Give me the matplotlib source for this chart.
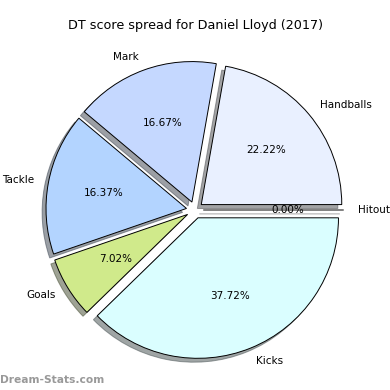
import matplotlib
matplotlib.use("Agg")
import matplotlib.pyplot as plt

labels = ["Handballs", "Mark", "Tackle", "Goals", "Kicks", "Hitouts"]
values = [76, 57, 56, 24, 129, 0]
colors = ["#e9f0ff", "#c5d8ff", "#b3d4ff", "#d0ea8b", "#dafeff", "#ffffff"]
explode = [0.06] * len(values)

fig = plt.figure(figsize=(3.9, 3.9), dpi=100)
w = 2.5 * 140.5 / 390
cx, cy = 194.8 / 390, (390 - 210) / 390
ax = fig.add_axes([cx - w / 2, cy - w / 2, w, w])
wedges, texts, autotexts = ax.pie(
    values, labels=labels, colors=colors, explode=explode, shadow=True,
    autopct="%1.2f%%", startangle=0,
    wedgeprops=dict(edgecolor="black", linewidth=0.7),
    textprops=dict(fontsize=7.5),
)
ax.set_xlim(-1.25, 1.25)
ax.set_ylim(-1.25, 1.25)
ax.set_aspect("equal")
fig.text(0.5, 0.935, "DT score spread for Daniel Lloyd (2017)", ha="center", va="center", fontsize=9.2)
fig.text(0.0, 0.025, "Dream-Stats.com", ha="left", va="center", fontsize=7.7, color="#999999", fontweight="bold")
fig.savefig("out.png", dpi=100)
